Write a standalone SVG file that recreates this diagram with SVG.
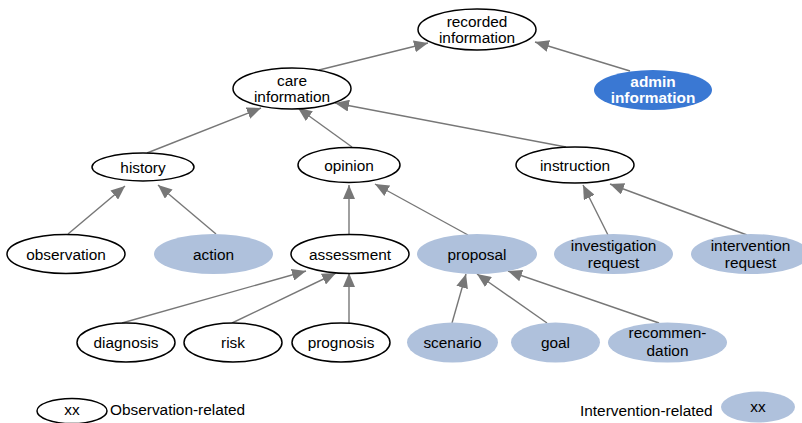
<svg xmlns="http://www.w3.org/2000/svg" width="802" height="423" viewBox="0 0 802 423">
<style>
text{font-family:"Liberation Sans",Arial,sans-serif;font-size:15.4px;fill:#000;text-anchor:middle}
.o{fill:#fff;stroke:#000;stroke-width:1.5}
.i{fill:#afc1dc;stroke:none}
.a{fill:#3a78d3;stroke:none}
.w{fill:#fff;font-weight:bold}
.e line{stroke:#777;stroke-width:1.4;marker-end:url(#ah)}
.l{text-anchor:start}
</style>
<defs>
<marker id="ah" markerUnits="userSpaceOnUse" markerWidth="15" markerHeight="12" refX="14" refY="6" orient="auto">
<path d="M0,0 L14,6 L0,12 z" fill="#777"/>
</marker>
</defs>
<g class="e" id="connectors">
<line x1="319" y1="70" x2="428" y2="43"/>
<line x1="630" y1="71" x2="535" y2="42"/>
<line x1="147" y1="153" x2="261" y2="108"/>
<line x1="352" y1="147" x2="298" y2="108"/>
<line x1="566" y1="147" x2="335" y2="103"/>
<line x1="68" y1="234" x2="125" y2="186"/>
<line x1="216" y1="234" x2="158" y2="185"/>
<line x1="349" y1="234" x2="349" y2="185"/>
<line x1="468" y1="235" x2="375" y2="184"/>
<line x1="608" y1="235" x2="583" y2="185"/>
<line x1="747" y1="235" x2="610" y2="184"/>
<line x1="122" y1="323" x2="306" y2="271"/>
<line x1="232" y1="323" x2="336" y2="273"/>
<line x1="349" y1="323" x2="349" y2="273"/>
<line x1="452" y1="323" x2="466" y2="274"/>
<line x1="547" y1="323" x2="477" y2="274"/>
<line x1="659" y1="323" x2="508" y2="271"/>
</g>
<g id="recorded"><ellipse class="o" cx="477" cy="29.5" rx="59" ry="20.5"/><text x="477" y="27">recorded</text><text x="477" y="43">information</text></g>
<g id="admin"><ellipse class="a" cx="653" cy="90" rx="59" ry="20"/><text class="w" x="653" y="87">admin</text><text class="w" x="653" y="103">information</text></g>
<g id="care"><ellipse class="o" cx="292" cy="88.5" rx="59" ry="20.5"/><text x="292" y="86">care</text><text x="292" y="102">information</text></g>
<g id="history"><ellipse class="o" cx="143" cy="167" rx="51" ry="14"/><text x="143" y="173">history</text></g>
<g id="opinion"><ellipse class="o" cx="349" cy="165" rx="51" ry="17.5"/><text x="349" y="171">opinion</text></g>
<g id="instruction"><ellipse class="o" cx="575" cy="165" rx="59" ry="18"/><text x="575" y="171">instruction</text></g>
<g id="observation"><ellipse class="o" cx="66" cy="254" rx="59" ry="19.5"/><text x="66" y="259.5">observation</text></g>
<g id="action"><ellipse class="i" cx="213.5" cy="254" rx="59.5" ry="20"/><text x="213.5" y="259.5">action</text></g>
<g id="assessment"><ellipse class="o" cx="350" cy="254" rx="59" ry="19.5"/><text x="350" y="259.5">assessment</text></g>
<g id="proposal"><ellipse class="i" cx="477" cy="254" rx="60" ry="20"/><text x="477" y="259.5">proposal</text></g>
<g id="investigation"><ellipse class="i" cx="613.5" cy="254" rx="59.5" ry="20"/><text x="613.5" y="251">investigation</text><text x="613.5" y="268">request</text></g>
<g id="intervention"><ellipse class="i" cx="750.5" cy="254" rx="59.5" ry="20"/><text x="750.5" y="251">intervention</text><text x="750.5" y="268">request</text></g>
<g id="diagnosis"><ellipse class="o" cx="126" cy="342.5" rx="49" ry="19.5"/><text x="126" y="348">diagnosis</text></g>
<g id="risk"><ellipse class="o" cx="233" cy="342.5" rx="49" ry="19.5"/><text x="233" y="348">risk</text></g>
<g id="prognosis"><ellipse class="o" cx="341" cy="342.5" rx="49" ry="19.5"/><text x="341" y="348">prognosis</text></g>
<g id="scenario"><ellipse class="i" cx="452.5" cy="342.5" rx="45.5" ry="20"/><text x="452.5" y="348">scenario</text></g>
<g id="goal"><ellipse class="i" cx="555.5" cy="342.5" rx="44.5" ry="20"/><text x="555.5" y="348">goal</text></g>
<g id="recommendation"><ellipse class="i" cx="667.5" cy="342.5" rx="59.5" ry="20"/><text x="667.5" y="338">recommen-</text><text x="667.5" y="356">dation</text></g>
<g id="legend-observation"><ellipse class="o" cx="72" cy="411" rx="35" ry="12.5"/><text x="72" y="415">xx</text><text class="l" x="110" y="415">Observation-related</text></g>
<g id="legend-intervention"><text class="l" x="580" y="416">Intervention-related</text><ellipse class="i" cx="758" cy="407" rx="37" ry="15.5"/><text x="758" y="412">xx</text></g>
</svg>
